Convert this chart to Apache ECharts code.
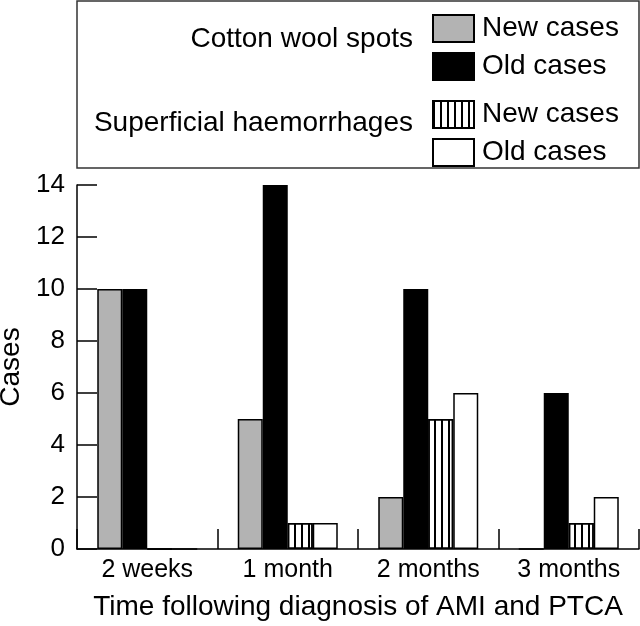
<!DOCTYPE html>
<html>
<head>
<meta charset="utf-8">
<script src="https://cdn.jsdelivr.net/npm/echarts@6/dist/echarts.min.js"></script>
<style>
html,body{margin:0;padding:0;background:#fff;}
#chart{width:640px;height:626px;}
</style>
</head>
<body>
<div id="chart"></div>
<script>
// ---- data ----
var categories = ['2 weeks', '1 month', '2 months', '3 months'];
var cottonNew = [10, 5, 2, 0];
var cottonOld = [10, 14, 10, 6];
var haemNew = [0, 1, 5, 1];
var haemOld = [0, 1, 6, 2];
var yTicks = [0, 2, 4, 6, 8, 10, 12, 14];
var legendNames = ['New cases', 'Old cases'];
var groupNames = ['Cotton wool spots', 'Superficial haemorrhages'];
var xTitle = 'Time following diagnosis of AMI and PTCA';
var yTitle = 'Cases';

var FONT = 'Liberation Sans';
var border = { borderColor: '#000', borderWidth: 1.5 };

function barSeries(name, data, style) {
  return {
    type: 'bar',
    name: name,
    data: data,
    barWidth: 25,
    barGap: '0%',
    itemStyle: Object.assign({}, border, style),
    emphasis: { disabled: true },
    animation: false
  };
}

var hatch = {
  color: '#fff',
  decal: {
    symbol: 'rect',
    symbolSize: 1,
    dashArrayX: [1.3, 4.7],
    dashArrayY: [5, 0],
    rotation: 0,
    color: '#000'
  }
};

function legendBlock(names, top) {
  return {
    data: names.map(function (n) { return { name: n, icon: 'rect' }; }),
    orient: 'vertical', left: 427, top: top,
    itemWidth: 41, itemHeight: 27, itemGap: 9,
    selectedMode: false,
    formatter: function (n) { return n.indexOf('New') >= 0 ? legendNames[0] : legendNames[1]; },
    textStyle: { fontSize: 28, fontFamily: FONT, color: '#000', lineHeight: 27, padding: [0, 0, 0, 3] }
  };
}

var chart = echarts.init(document.getElementById('chart'), null, { renderer: 'canvas' });
chart.setOption({
  animation: false,
  backgroundColor: '#fff',
  textStyle: { fontFamily: FONT, color: '#000' },
  grid: { left: 77, right: 1, top: 185, bottom: 77, outerBoundsMode: 'none', containLabel: false },
  legend: [
    legendBlock(['cwNew', 'cwOld'], 9),
    legendBlock(['shNew', 'shOld'], 95)
  ],
  graphic: [
    { type: 'rect', shape: { x: 77, y: 1, width: 562, height: 167 },
      style: { fill: 'none', stroke: '#333', lineWidth: 1.5 }, silent: true },
    { type: 'text', x: 413, y: 39, style: { text: groupNames[0], font: '28px "' + FONT + '"', fill: '#000', align: 'right', verticalAlign: 'middle' } },
    { type: 'text', x: 413, y: 123, style: { text: groupNames[1], font: '28px "' + FONT + '"', fill: '#000', align: 'right', verticalAlign: 'middle' } }
  ],
  xAxis: {
    type: 'category',
    data: categories,
    name: xTitle,
    nameLocation: 'middle',
    nameGap: 44,
    nameTextStyle: { fontSize: 28, fontFamily: FONT, color: '#000' },
    axisLine: { show: true, lineStyle: { color: '#000', width: 1.5 } },
    axisTick: { show: true, inside: true, length: 20, lineStyle: { color: '#000', width: 1.5 } },
    axisLabel: { fontSize: 25, fontFamily: FONT, color: '#000', margin: 9 },
    splitLine: { show: false }
  },
  yAxis: {
    type: 'value',
    min: yTicks[0],
    max: yTicks[yTicks.length - 1],
    interval: yTicks[1] - yTicks[0],
    name: yTitle,
    nameLocation: 'middle',
    nameRotate: 90,
    nameGap: 50,
    nameTextStyle: { fontSize: 28, fontFamily: FONT, color: '#000' },
    axisLine: { show: true, lineStyle: { color: '#000', width: 1.5 } },
    axisTick: { show: true, inside: true, length: 20, lineStyle: { color: '#000', width: 1.5 } },
    axisLabel: { fontSize: 26, fontFamily: FONT, color: '#000', margin: 12 },
    splitLine: { show: false }
  },
  series: [
    barSeries('cwNew', cottonNew, { color: '#b3b3b3' }),
    barSeries('cwOld', cottonOld, { color: '#000' }),
    barSeries('shNew', haemNew, hatch),
    barSeries('shOld', haemOld, { color: '#fff' })
  ]
});
</script>
</body>
</html>
